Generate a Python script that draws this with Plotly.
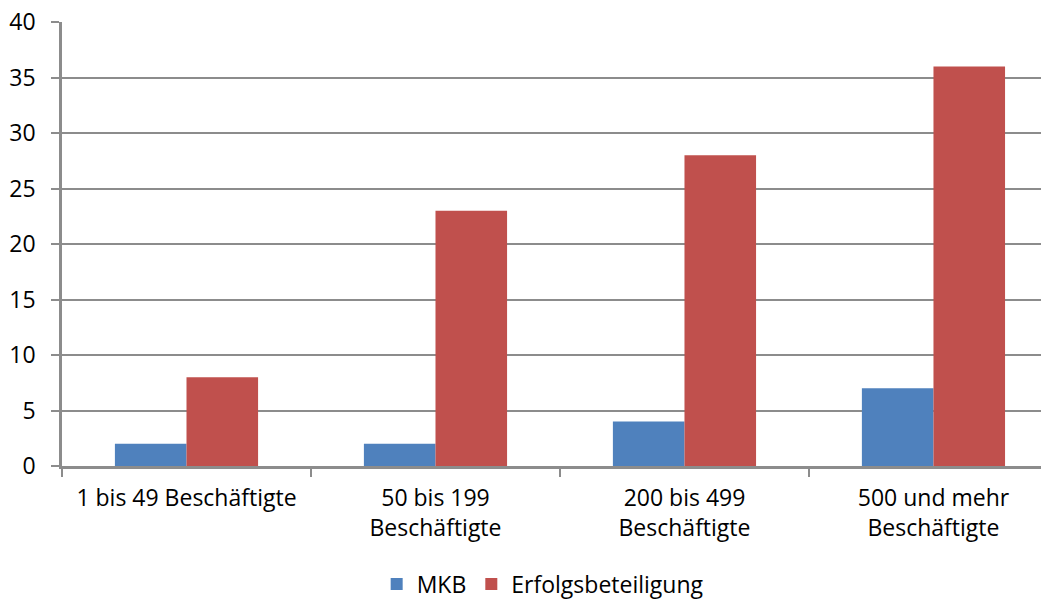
import plotly.graph_objects as go

categories = ["1 bis 49 Beschäftigte", "50 bis 199<br>Beschäftigte",
              "200 bis 499<br>Beschäftigte", "500 und mehr<br>Beschäftigte"]
mkb = [2, 2, 4, 7]
erfolg = [8, 23, 28, 36]
y_ticks = [0, 5, 10, 15, 20, 25, 30, 35, 40]

FONT = "Open Sans"
FS = 23
GRID = "#8c8c8c"

fig = go.Figure()
fig.add_trace(go.Bar(name="MKB", x=categories, y=mkb, marker_color="#4F81BD",
                     marker_line_width=0))
fig.add_trace(go.Bar(name="Erfolgsbeteiligung", x=categories, y=erfolg,
                     marker_color="#C0504D", marker_line_width=0))

fig.update_layout(
    width=1041, height=594,
    margin=dict(l=54, r=0, t=14, b=136, autoexpand=False),
    paper_bgcolor="white", plot_bgcolor="white",
    barmode="group", bargap=0.425, bargroupgap=0,
    font=dict(family=FONT, size=FS, color="black"),
    legend=dict(orientation="h", x=0.487, xanchor="center", y=-0.266, yanchor="middle",
                font=dict(family=FONT, size=FS), itemwidth=30, tracegroupgap=0),
    showlegend=True,
)
fig.update_xaxes(
    type="category", range=[-0.5, 3.464],
    showline=True, linecolor=GRID, linewidth=2.5,
    ticks="outside", tickson="boundaries", ticklen=8, tickcolor=GRID, tickwidth=2,
    ticklabelstandoff=10, ticklabeloverflow="allow",
    showgrid=False, tickfont=dict(family=FONT, size=FS), fixedrange=True,
)
fig.update_yaxes(
    range=[0, 40], tickvals=y_ticks,
    showline=True, linecolor=GRID, linewidth=2.5,
    ticks="outside", ticklen=8, tickcolor=GRID, tickwidth=2,
    ticklabelstandoff=11, ticklabeloverflow="allow",
    showgrid=True, gridcolor=GRID, gridwidth=1.5,
    zeroline=False, tickfont=dict(family=FONT, size=FS),
)

fig.write_html("out.html")
